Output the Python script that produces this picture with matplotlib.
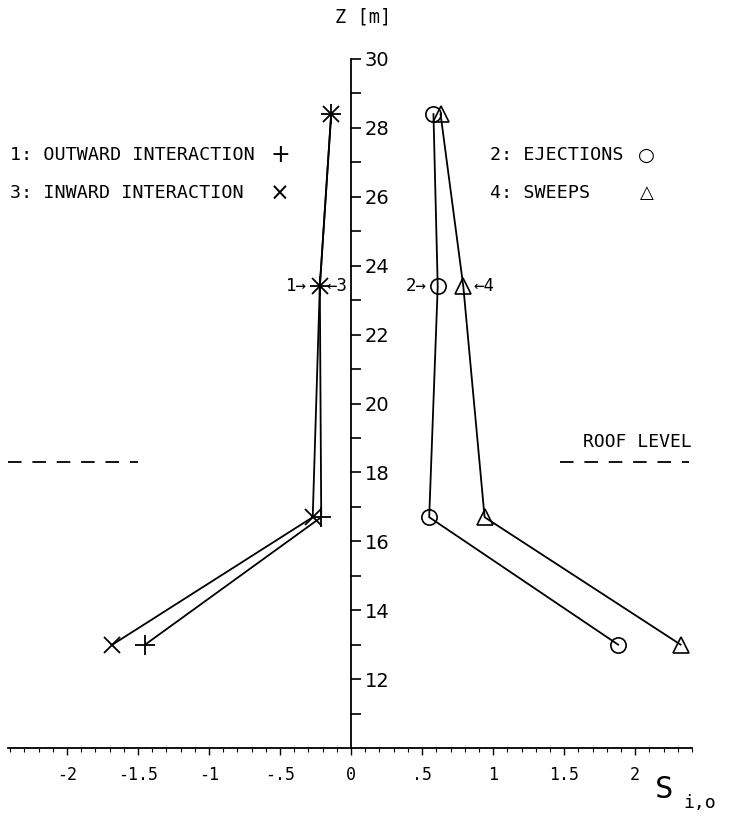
import numpy as np
import matplotlib
matplotlib.use("Agg")
import matplotlib.pyplot as plt
from matplotlib.ticker import MultipleLocator

# heights of the measuring points [m]
z = [13.0, 16.7, 23.4, 28.4]

# quadrant contributions S_i,o at each height
outward = [-1.45, -0.21, -0.22, -0.14]    # 1: outward interaction
ejections = [1.88, 0.55, 0.61, 0.58]      # 2: ejections
inward = [-1.68, -0.27, -0.22, -0.14]     # 3: inward interaction
sweeps = [2.32, 0.94, 0.79, 0.63]         # 4: sweeps

roof_level = 18.3

x_ticks = [-2, -1.5, -1, -0.5, 0, 0.5, 1, 1.5, 2]
x_ticklabels = ["-2", "-1.5", "-1", "-.5", "0", ".5", "1", "1.5", "2"]
z_ticks = list(range(12, 31, 2))

mono = "DejaVu Sans Mono"

fig = plt.figure(figsize=(7.3, 8.17), dpi=100)
ax = fig.add_axes([8 / 730, 1 - 748 / 817, 684 / 730, (748 - 59) / 817])
ax.set_xlim(-2.415, 2.40)
ax.set_ylim(10, 30)

# axes cross at S = 0, only the two axis lines are drawn
ax.spines["left"].set_position(("data", 0))
ax.spines["top"].set_visible(False)
ax.spines["right"].set_visible(False)
for s in ("left", "bottom"):
    ax.spines[s].set_linewidth(1.3)

lw = 1.3
ax.plot(outward, z, color="black", lw=lw, marker="+", ms=14, mew=1.3, clip_on=False)
ax.plot(inward, z, color="black", lw=lw, marker="x", ms=11, mew=1.3, clip_on=False)
ax.plot(ejections, z, color="black", lw=lw, marker="o", ms=11, mew=1.2,
        mfc="none", clip_on=False)
ax.plot(sweeps, z, color="black", lw=lw, marker="^", ms=11, mew=1.2,
        mfc="none", clip_on=False)

# roof level marks on both sides
ax.plot([-2.415, -1.5], [roof_level, roof_level], color="black", lw=1.3,
        ls=(0, (7.5, 6)), clip_on=False)
ax.plot([1.47, 2.38], [roof_level, roof_level], color="black", lw=1.3,
        ls=(0, (7.5, 6)), clip_on=False)
ax.text(1.635, roof_level + 0.33, "ROOF LEVEL", fontsize=13, family=mono,
        ha="left", va="bottom")

# legend text with its symbols
ax.text(-2.40, 27.2, "1: OUTWARD INTERACTION", fontsize=13.2, family=mono,
        va="center")
ax.text(-2.40, 26.1, "3: INWARD INTERACTION", fontsize=13.2, family=mono,
        va="center")
ax.text(0.98, 27.2, "2: EJECTIONS", fontsize=13.2, family=mono, va="center")
ax.text(0.98, 26.1, "4: SWEEPS", fontsize=13.2, family=mono, va="center")
ax.text(-0.50, 27.2, "+", fontsize=17, ha="center", va="center")
ax.text(-0.50, 26.1, "\u00d7", fontsize=17, ha="center", va="center")
ax.text(2.08, 27.2, "\u25cb", fontsize=14, ha="center", va="center")
ax.text(2.08, 26.1, "\u25b3", fontsize=13, ha="center", va="center")

# series numbers pointing at the 23 m markers
ax.annotate("1\u2192", xy=(outward[2], z[2]), xytext=(-9, 0),
            textcoords="offset points", ha="right", va="center",
            fontsize=12.5, family=mono)
ax.annotate("\u21903", xy=(inward[2], z[2]), xytext=(5, 0),
            textcoords="offset points", ha="left", va="center",
            fontsize=12.5, family=mono)
ax.annotate("2\u2192", xy=(ejections[2], z[2]), xytext=(-8, 0),
            textcoords="offset points", ha="right", va="center",
            fontsize=12.5, family=mono)
ax.annotate("\u21904", xy=(sweeps[2], z[2]), xytext=(7, 0),
            textcoords="offset points", ha="left", va="center",
            fontsize=12.5, family=mono)

# vertical axis: ticks point right, labels on the right side
ax.set_yticks(z_ticks)
ax.set_yticks(range(11, 30, 2), minor=True)
ax.tick_params(axis="y", which="both", direction="in", length=7, width=1.2,
               pad=-9.8, labelsize=14)
for lab in ax.get_yticklabels():
    lab.set_horizontalalignment("left")

# horizontal axis
ax.set_xticks(x_ticks)
ax.set_xticklabels(x_ticklabels, family=mono, fontsize=12)
ax.xaxis.set_minor_locator(MultipleLocator(0.1))
ax.tick_params(axis="x", which="major", direction="out", length=5, width=1.0, pad=8)
ax.tick_params(axis="x", which="minor", direction="out", length=3, width=0.8)

fig.text(363 / 730, 1 - 17 / 817, "Z [m]", fontsize=13.5, family=mono,
         ha="center", va="center")
fig.text(655 / 730, 1 - 790 / 817, "S", fontsize=22, family=mono,
         ha="left", va="center")
fig.text(683 / 730, 1 - 803 / 817, "i,o", fontsize=13, family=mono,
         ha="left", va="center")

fig.savefig("out.png", dpi=100)
